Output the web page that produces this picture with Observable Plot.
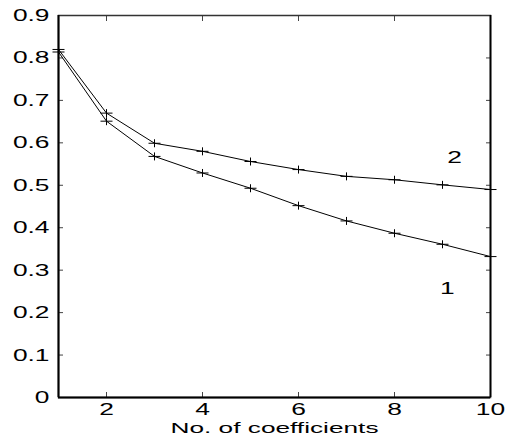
<!DOCTYPE html>
<html>
<head>
<meta charset="utf-8">
<script src="https://cdn.jsdelivr.net/npm/d3@7"></script>
<script src="https://cdn.jsdelivr.net/npm/@observablehq/plot@0.6"></script>
<style>
  html, body { margin: 0; padding: 0; background: white; }
</style>
</head>
<body>
<div id="chart"></div>
<script>
const coefficients = [1, 2, 3, 4, 5, 6, 7, 8, 9, 10];
const series1 = [0.814, 0.651, 0.568, 0.529, 0.493, 0.452, 0.416, 0.387, 0.361, 0.332];
const series2 = [0.820, 0.670, 0.599, 0.580, 0.556, 0.537, 0.521, 0.513, 0.501, 0.490];
const xTicks = [2, 4, 6, 8, 10];
const yTicks = [0, 0.1, 0.2, 0.3, 0.4, 0.5, 0.6, 0.7, 0.8, 0.9];
const curveLabels = [
  {name: "2", x: 9.25, y: 0.566},
  {name: "1", x: 9.1, y: 0.257}
];
const xLabel = "No. of coefficients";

const rows = [
  ...coefficients.map((c, i) => ({x: c, y: series1[i], s: "1"})),
  ...coefficients.map((c, i) => ({x: c, y: series2[i], s: "2"}))
];

const plusSymbol = {
  draw(ctx) {
    ctx.moveTo(-6, 0); ctx.lineTo(6, 0);
    ctx.moveTo(0, -4); ctx.lineTo(0, 4);
  }
};

const yFmt = d => d === 0 ? "0" : d.toFixed(1);

const chart = Plot.plot({
  width: 508,
  height: 442,
  marginLeft: 58,
  marginRight: 18,
  marginTop: 15,
  marginBottom: 45,
  style: {fontFamily: "'Liberation Sans', Arial, sans-serif", fontSize: "17px", background: "white", color: "black"},
  x: {domain: [1, 10]},
  y: {domain: [0, 0.9]},
  marks: [
    // inward ticks
    Plot.axisX(xTicks, {anchor: "bottom", tickSize: -5, tickFormat: () => "", label: null, stroke: "#444"}),
    Plot.axisX(xTicks, {anchor: "top", tickSize: -5, tickFormat: () => "", label: null, stroke: "#444"}),
    Plot.axisY(yTicks, {anchor: "left", tickSize: -5, tickFormat: () => "", label: null, stroke: "#444"}),
    Plot.axisY(yTicks, {anchor: "right", tickSize: -5, tickFormat: () => "", label: null, stroke: "#444"}),
    // labels
    Plot.axisX(xTicks, {anchor: "bottom", tickSize: 0, tickPadding: 6, label: null, fontSize: 16, className: "xtick"}),
    Plot.axisY(yTicks, {anchor: "left", tickSize: 0, tickPadding: 9, tickFormat: yFmt, label: null}),
    Plot.frame({stroke: "#333", strokeWidth: 1.5}),
    Plot.ruleX([1], {stroke: "black", strokeWidth: 2}),
    Plot.ruleY([0], {stroke: "black", strokeWidth: 2}),
    Plot.ruleX([10], {stroke: "black", strokeWidth: 1.8}),
    Plot.line(rows, {x: "x", y: "y", z: "s", stroke: "black", strokeWidth: 1}),
    Plot.dot(rows, {x: "x", y: "y", symbol: plusSymbol, stroke: "black", fill: "none", strokeWidth: 1}),
    Plot.text(curveLabels, {x: "x", y: "y", text: "name", fill: "black", fontSize: 17}),
    Plot.text([xLabel], {frameAnchor: "bottom", dy: 25, lineAnchor: "top", text: d => d, fill: "black", fontSize: 15, className: "xlabel"})
  ]
});

chart.querySelectorAll("text").forEach(t => {
  const S = t.closest(".xlabel") ? 1.75 : t.closest(".xtick") ? 1.65 : 1.55;
  const x = +(t.getAttribute("x") || 0);
  const tr = t.getAttribute("transform") || "";
  t.setAttribute("transform", `${tr} translate(${x},0) scale(${S},1) translate(${-x},0)`);
});

document.getElementById("chart").appendChild(chart);
</script>
</body>
</html>
